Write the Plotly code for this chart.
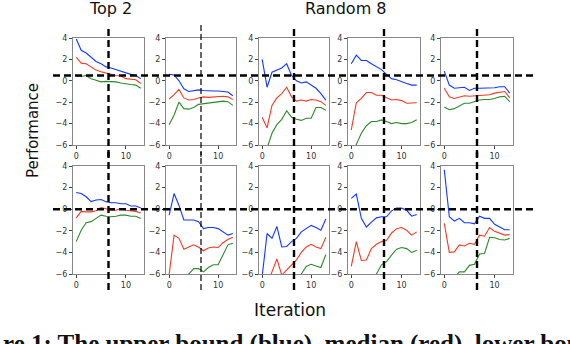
import plotly.graph_objects as go
from plotly.subplots import make_subplots

# ------------------------------------------------------------
# Data: 14 iterations, 5 panels per row (Top 2 + Random 8)
# ------------------------------------------------------------
iterations = list(range(14))

upper_row1 = [
    [3.9, 2.85, 2.6, 2.2, 1.8, 1.6, 1.3, 1.2, 1.05, 0.85, 0.7, 0.6, 0.5, 0.2],
    [0.6, 0.55, 0.0, -0.75, -1.0, -0.95, -0.85, -0.9, -0.95, -0.95, -0.95, -1.0, -1.05, -1.4],
    [2.0, -0.6, 0.8, 1.0, 1.2, 1.6, 0.5, 0.0, -0.2, -0.1, -0.4, -0.7, -1.2, -1.8],
    [1.6, 2.4, 1.9, 1.9, 1.6, 1.35, 1.05, 0.6, 0.2, 0.1, -0.1, -0.25, -0.4, -0.4],
    [0.9, -0.4, -0.7, -0.65, -0.6, -0.9, -0.7, -0.7, -0.7, -0.65, -0.65, -0.55, -0.55, -1.15],
]
median_row1 = [
    [2.2, 1.65, 1.6, 1.3, 1.0, 0.85, 0.7, 0.6, 0.5, 0.45, 0.2, 0.15, 0.1, -0.25],
    [-1.7, -1.3, -0.8, -1.6, -1.8, -1.75, -1.6, -1.5, -1.55, -1.5, -1.45, -1.45, -1.5, -1.75],
    [-3.4, -4.4, -2.3, -1.6, -1.2, -0.6, -1.5, -1.9, -1.8, -1.9, -1.75, -1.8, -1.95, -2.3],
    [-4.6, -2.05, -1.65, -1.1, -1.1, -1.35, -1.35, -1.55, -1.8, -1.75, -1.85, -2.1, -2.1, -2.05],
    [-0.7, -1.5, -1.65, -1.5, -1.4, -1.45, -1.4, -1.35, -1.3, -1.3, -1.15, -1.05, -1.0, -1.6],
]
lower_row1 = [
    [0.45, 0.4, 0.5, 0.2, 0.05, -0.1, -0.05, -0.05, -0.1, -0.2, -0.3, -0.35, -0.4, -0.7],
    [-4.1, -3.2, -2.0, -2.6, -2.65, -2.5, -2.2, -2.15, -2.1, -2.0, -1.95, -1.9, -1.95, -2.3],
    [-7.5, -6.3, -4.9, -4.1, -3.6, -2.8, -3.4, -3.6, -3.7, -3.5, -3.5, -2.5, -2.5, -2.75],
    [-7.0, -6.0, -4.9, -4.2, -3.8, -3.8, -3.65, -3.8, -4.0, -3.9, -4.0, -4.0, -3.9, -3.65],
    [-2.45, -2.7, -2.6, -2.35, -2.1, -2.1, -1.95, -1.8, -1.75, -1.75, -1.65, -1.5, -1.45, -1.95],
]

upper_row2 = [
    [1.55, 1.45, 1.15, 0.7, 0.85, 0.9, 0.7, 0.6, 0.6, 0.5, 0.5, 0.3, 0.3, 0.1],
    [-0.55, 1.45, 0.35, -1.0, -1.0, -1.0, -1.15, -1.8, -1.7, -1.7, -1.8, -2.1, -2.4, -2.25],
    [-6.2, -2.25, -2.7, -1.6, -3.5, -3.45, -3.0, -2.7, -2.1, -1.8, -1.5, -1.7, -1.95, -0.9],
    [1.0, 1.4, -0.85, -1.65, -1.2, -0.8, -0.7, -0.7, -0.15, 0.1, 0.1, -0.1, -0.65, -0.5],
    [3.65, -0.7, -1.1, -0.85, -1.25, -1.25, -1.35, -0.65, -0.85, -0.85, -1.4, -1.65, -1.9, -1.9],
]
median_row2 = [
    [-0.8, -0.2, -0.25, -0.25, -0.15, 0.15, 0.05, -0.1, -0.1, 0.05, -0.1, -0.15, -0.2, -0.35],
    [-6.0, -2.4, -2.7, -3.7, -3.5, -3.3, -3.5, -3.85, -3.6, -3.5, -3.55, -3.1, -2.8, -2.6],
    [-7.0, -7.0, -5.8, -4.6, -6.1, -5.6, -5.2, -4.7, -4.0, -3.5, -3.25, -3.5, -3.65, -2.6],
    [-5.3, -3.0, -4.75, -4.7, -3.65, -3.25, -3.0, -2.9, -2.2, -1.8, -1.7, -1.95, -2.4, -2.1],
    [-1.3, -4.0, -3.95, -3.3, -3.4, -3.15, -3.25, -2.4, -2.5, -1.7, -2.05, -2.2, -2.4, -2.35],
]
lower_row2 = [
    [-3.0, -1.95, -1.25, -1.15, -0.85, -0.55, -0.65, -0.7, -0.65, -0.55, -0.55, -0.65, -0.65, -0.85],
    [-8.0, -7.5, -7.0, -6.5, -5.9, -5.5, -5.5, -5.8, -5.4, -5.15, -5.15, -4.2, -3.3, -3.15],
    [-8.0, -8.0, -8.0, -8.0, -8.0, -7.5, -7.0, -6.6, -6.0, -5.3, -5.1, -5.25, -5.4, -4.2],
    [-8.0, -8.0, -7.5, -7.0, -6.5, -6.0, -5.15, -4.85, -4.25, -3.7, -3.55, -3.65, -4.0, -3.8],
    [-8.0, -7.0, -6.3, -5.8, -5.8, -5.2, -5.1, -4.15, -4.1, -2.6, -2.65, -2.8, -2.85, -2.7],
]

y_ticks = [4, 2, 0, -2, -4, -6]
x_ticks = [0, 10]

# ------------------------------------------------------------
# Geometry helpers: positions are page pixels (body margin removed)
# ------------------------------------------------------------
W, H = 570, 344
px = lambda v: v / W
py = lambda v: 1 - v / H

col_px = [(73, 144), (166, 236), (259, 329), (348, 420), (441, 513)]
row_px = [(38, 145), (166, 274)]

BLUE, RED, GREEN = "#1238ff", "#f03a22", "#2b8a27"

fig = make_subplots(rows=2, cols=5)

rows = [(upper_row1, median_row1, lower_row1), (upper_row2, median_row2, lower_row2)]
for r, (up, med, low) in enumerate(rows):
    for c in range(5):
        for series, color in ((up[c], BLUE), (med[c], RED), (low[c], GREEN)):
            fig.add_trace(go.Scatter(x=iterations, y=series, mode="lines",
                                     line=dict(color=color, width=1.1),
                                     showlegend=False, hoverinfo="skip"),
                          row=r + 1, col=c + 1)

tick_font = dict(family="DejaVu Sans", size=8, color="#333")
for r in range(2):
    for c in range(5):
        idx = r * 5 + c + 1
        sfx = "" if idx == 1 else str(idx)
        x0, x1 = col_px[c]
        y0, y1 = row_px[r]
        fig.layout["xaxis" + sfx].update(
            domain=[px(x0), px(x1)], range=[-0.65, 13.65],
            tickvals=x_ticks, ticks="outside", ticklen=3, tickcolor="#444",
            tickfont=tick_font, showgrid=False, zeroline=False, automargin=False,
            showline=True, linecolor="#888", linewidth=1, mirror=True)
        fig.layout["yaxis" + sfx].update(
            domain=[py(y1), py(y0)], range=[-6, 4],
            tickvals=y_ticks, ticks="outside", ticklen=3, tickcolor="#444",
            tickfont=tick_font, showgrid=False, zeroline=False, automargin=False,
            showline=True, linecolor="#888", linewidth=1, mirror=True)

# ------------------------------------------------------------
# Dashed reference lines
# ------------------------------------------------------------
thick = dict(color="black", width=2.4, dash="7px,4px")
fig.add_shape(type="line", xref="paper", yref="y", x0=px(53), x1=px(535),
              y0=0.5, y1=0.5, line=thick)
fig.add_shape(type="line", xref="paper", yref="y6", x0=px(53), x1=px(533),
              y0=0, y1=0, line=thick)

v_spans = [(25, 157), (152, 290)]
for r in range(2):
    for c in range(5):
        idx = r * 5 + c + 1
        xr = "x" if idx == 1 else "x" + str(idx)
        style = dict(color="black", width=1.2, dash="6px,3px") if c == 1 else thick
        fig.add_shape(type="line", xref=xr, yref="paper", x0=6.5, x1=6.5,
                      y0=py(v_spans[r][1]), y1=py(v_spans[r][0]), line=style)

# ------------------------------------------------------------
# Text
# ------------------------------------------------------------
sans = "DejaVu Sans"


def label(text, x, y, size, angle=0, family=sans, xanchor="center", yanchor="middle"):
    fig.add_annotation(text=text, x=px(x), y=py(y), xref="paper", yref="paper",
                       xanchor=xanchor, yanchor=yanchor, textangle=angle,
                       showarrow=False, font=dict(family=family, size=size, color="#111"))


label("Top 2", 110, 8, 16)
label("Random 8", 346, 8, 16)
label("Performance", 33, 131, 15, angle=-90)
label("Iteration", 290, 310, 17)
label("<b>re 1: The upper bound (blue), median (red), lower bound</b>",
      1, 360, 25, family="Liberation Serif", xanchor="left", yanchor="bottom")

fig.update_layout(width=W, height=H, margin=dict(l=0, r=0, t=0, b=0),
                  paper_bgcolor="white", plot_bgcolor="white")

fig.write_html("out.html", config={"displayModeBar": False},
               post_script="document.body.style.margin = '0';")
